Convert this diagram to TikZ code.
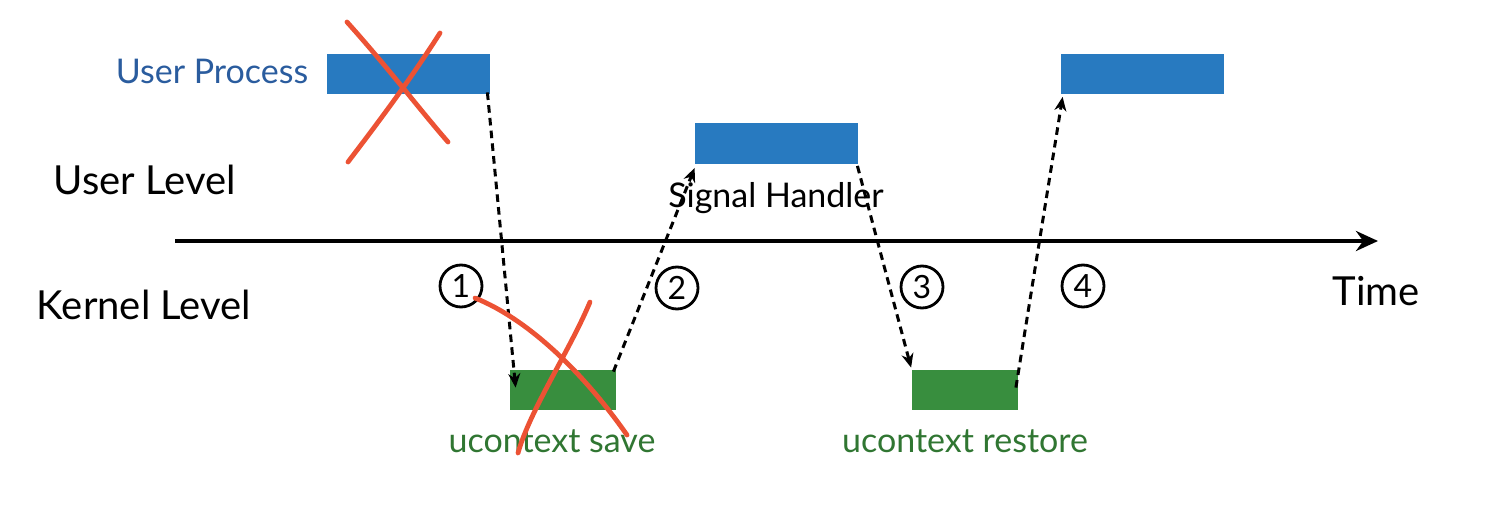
\documentclass[tikz,border=0pt]{standalone}
\usepackage{fontspec}
\setmainfont{Lato}
\usetikzlibrary{arrows.meta}
\definecolor{boxblue}{RGB}{40,122,192}
\definecolor{textblue}{RGB}{42,92,158}
\definecolor{boxgreen}{RGB}{56,142,62}
\definecolor{textgreen}{RGB}{48,118,50}
\definecolor{crossred}{RGB}{236,82,52}
\tikzset{
  bluebar/.style={fill=boxblue, draw=none, minimum width=81.5pt, minimum height=20pt, inner sep=0pt},
  greenbar/.style={fill=boxgreen, draw=none, minimum width=53pt, minimum height=20pt, inner sep=0pt},
  lvl/.style={font=\fontsize{20}{22}\selectfont, text=black, inner sep=0pt},
  lbl/.style={font=\fontsize{17}{19}\selectfont, inner sep=0pt},
  num/.style={circle, draw=black, line width=1.4pt, minimum size=21pt, inner sep=0pt, font=\fontsize{16}{16}\selectfont},
  dasharrow/.style={line width=1.5pt, dash pattern=on 3.8pt off 2.6pt, -{Stealth[length=7pt,width=6pt]}},
  redx/.style={draw=crossred, line width=2.4pt, line cap=round},
}
\begin{document}
\begin{tikzpicture}[x=0.5pt,y=-0.5pt]
\useasboundingbox (0,0) rectangle (1503,508);
% boxes
\node[bluebar] (up) at (408.5,74) {};
\node[bluebar] (sh) at (776.5,143.5) {};
\node[bluebar] (up2) at (1142.5,74.5) {};
\node[greenbar] (save) at (563,390) {};
\node[greenbar] (restore) at (964.5,390) {};
% labels
\node[lbl, text=textblue] (uptxt) at (212,71) {User Process};
\node[lvl] (ul) at (145,180) {User Level};
\node[lvl] (kl) at (144,305) {Kernel Level};
\node[lvl] (time) at (1376,291) {Time};
\node[lbl, text=black] (shtxt) at (776,198) {Signal Handler};
\node[lbl, text=textgreen] (savetxt) at (552,441) {ucontext save};
\node[lbl, text=textgreen] (restxt) at (965,441) {ucontext restore};
% time axis
\coordinate (t0) at (175,241);
\coordinate (t1) at (1378,241);
\draw[line width=2.2pt, -{Stealth[length=11pt,width=10pt]}] (t0) -- (t1);
% numbers
\node[num] (n1) at (461,286) {1};
\node[num] (n2) at (677,288) {2};
\node[num] (n3) at (922,287) {3};
\node[num] (n4) at (1083,286) {4};
% dashed arrows
\draw[dasharrow] ([xshift=-1.5pt,yshift=1pt]up.south east) -- ([xshift=3pt,yshift=-9pt]save.north west);
\draw[dasharrow] ([xshift=-1.5pt,yshift=-1pt]save.north east) -- ([xshift=0pt,yshift=-2pt]sh.south west);
\draw[dasharrow] ([xshift=-0.5pt,yshift=-1pt]sh.south east) -- ([xshift=0pt,yshift=1pt]restore.north west);
\draw[dasharrow] ([xshift=-1pt,yshift=-9pt]restore.north east) -- ([xshift=1pt,yshift=-1pt]up2.south west);
% red crosses
\draw[redx] (347,22) .. controls (390,70) and (420,110) .. (448,142);
\draw[redx] (440,33) .. controls (410,80) and (380,120) .. (348,162);
\draw[redx] (475,298) .. controls (530,320) and (585,375) .. (627,435);
\draw[redx] (590,302) .. controls (570,350) and (530,410) .. (518,453);
\end{tikzpicture}
\end{document}
